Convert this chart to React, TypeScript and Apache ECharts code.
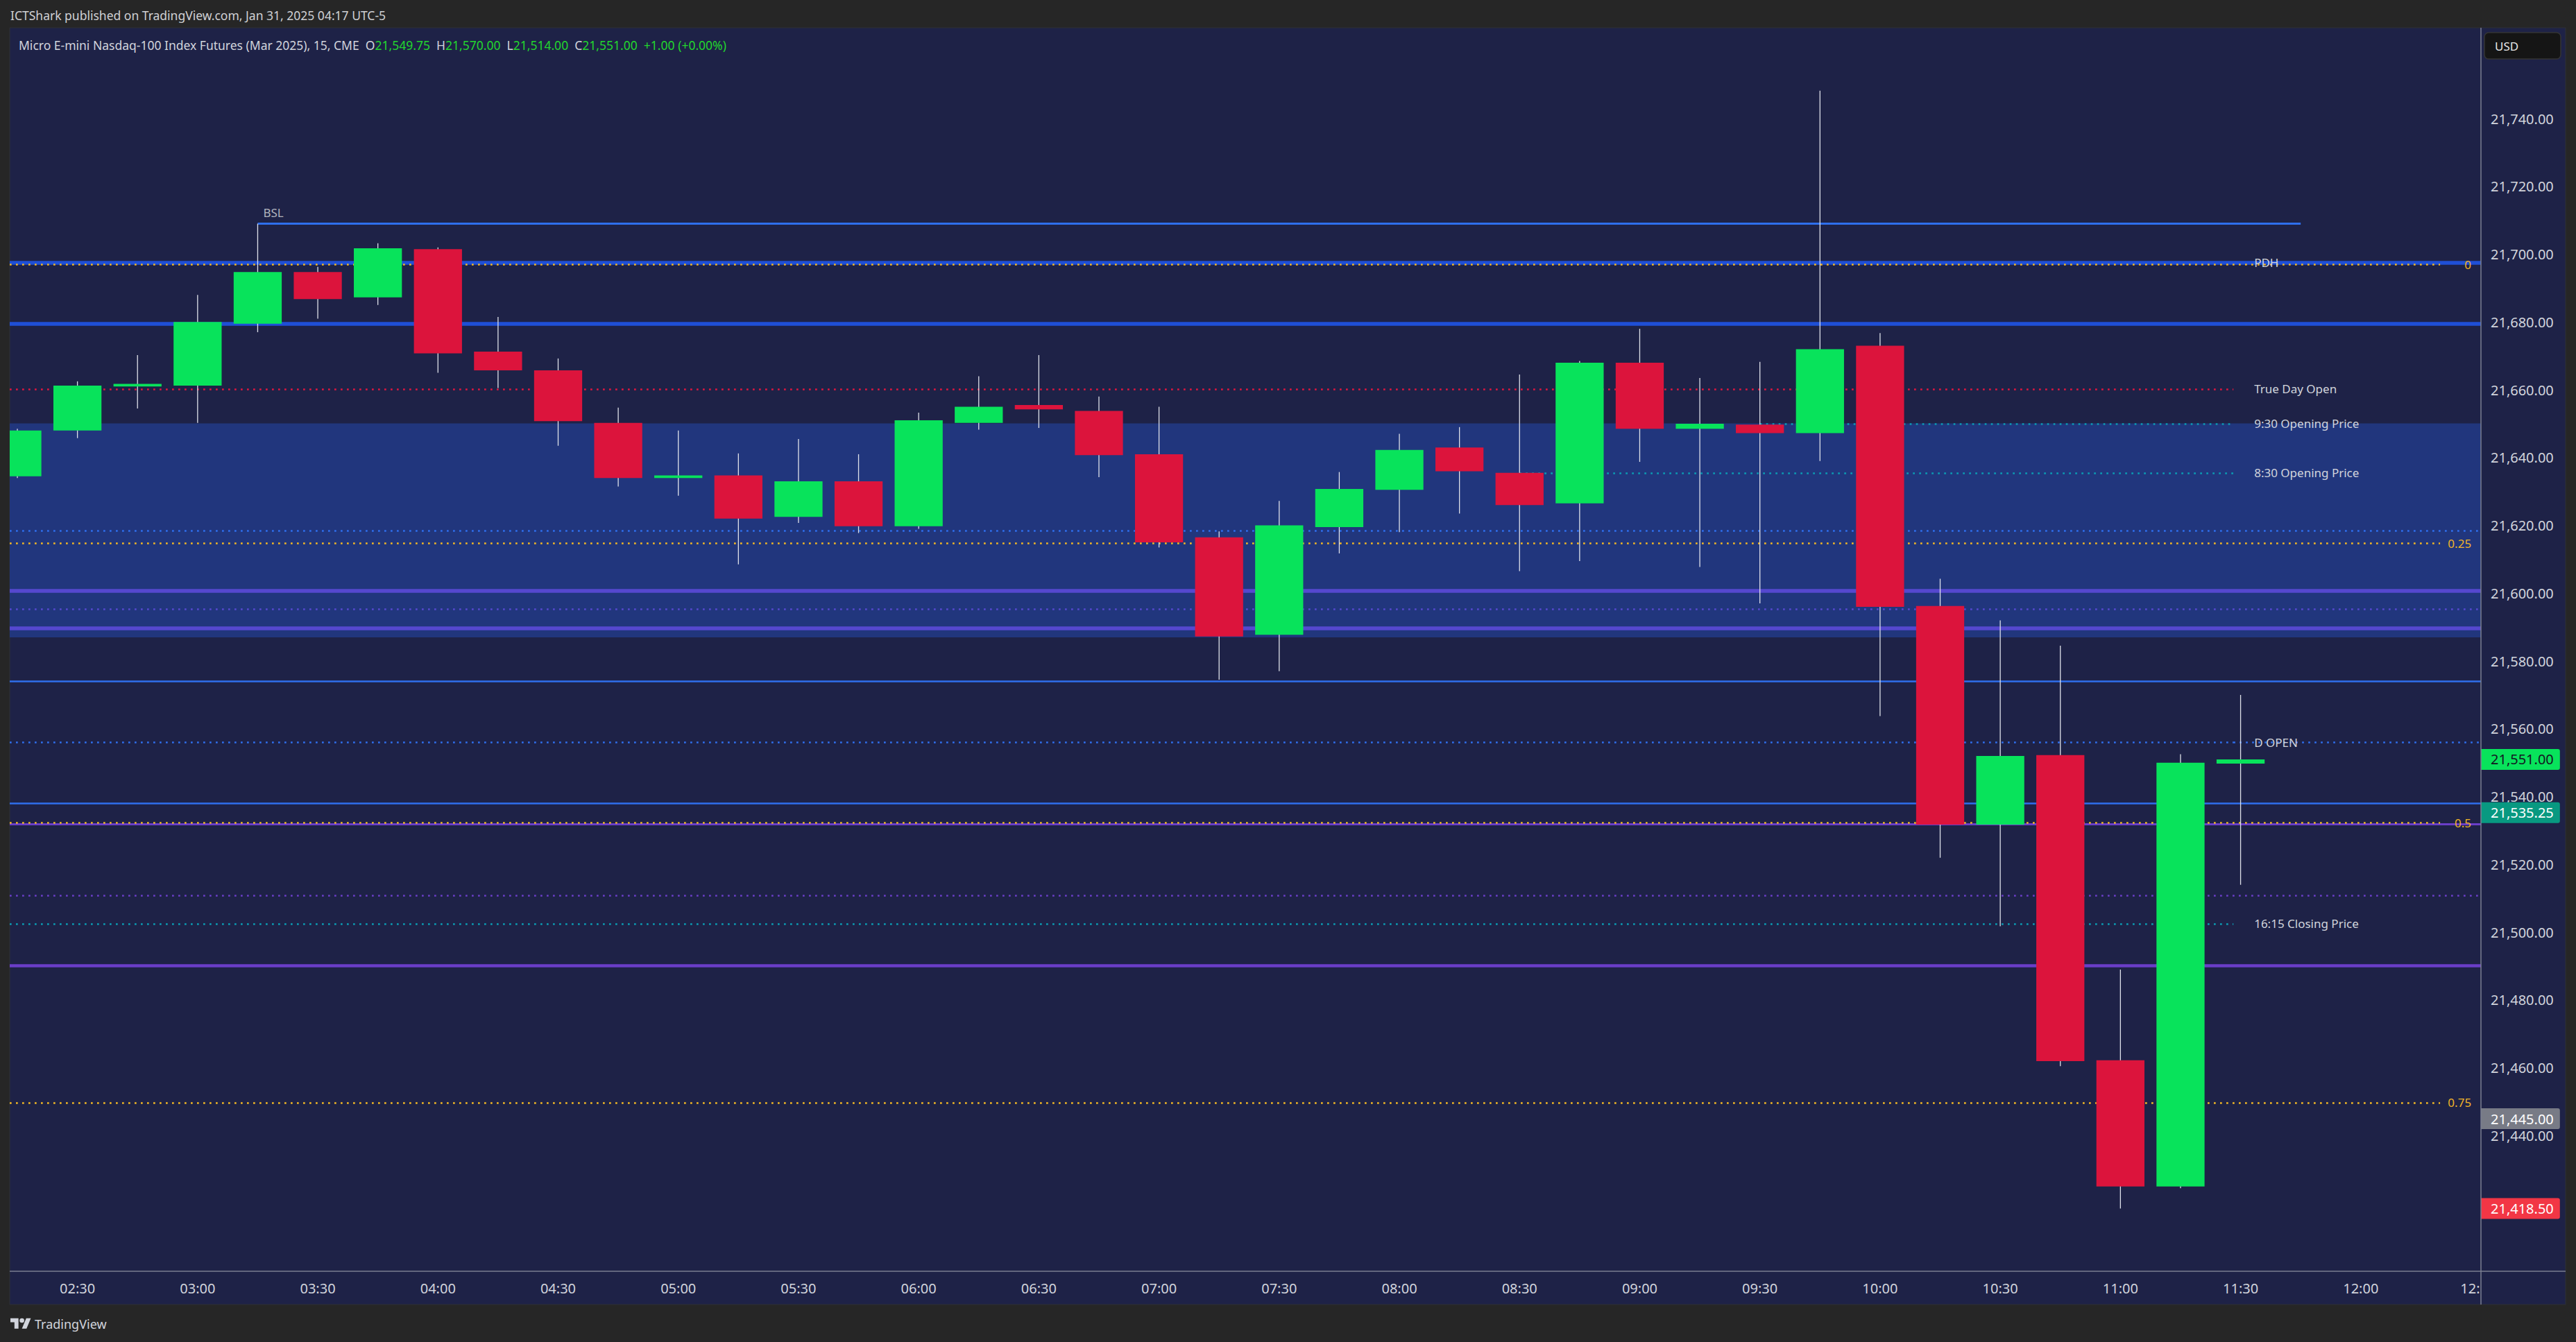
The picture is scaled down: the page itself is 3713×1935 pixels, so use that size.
import React, { useEffect, useRef } from 'react';
import * as echarts from 'echarts';

// ---------------- DATA ----------------
const candleTimes = ['02:15','02:30','02:45','03:00','03:15','03:30','03:45','04:00','04:15','04:30','04:45','05:00','05:15','05:30','05:45','06:00','06:15','06:30','06:45','07:00','07:15','07:30','07:45','08:00','08:15','08:30','08:45','09:00','09:15','09:30','09:45','10:00','10:15','10:30','10:45','11:00','11:15','11:30'];
const opens  = [21634.5,21648,21661,21661.25,21679.5,21694.75,21687.25,21701.5,21671.25,21665.75,21650.25,21634,21634.75,21622.5,21633,21619.75,21650.25,21655.5,21653.75,21641,21616.5,21587.75,21619.5,21630.5,21643,21635.5,21626.5,21668,21648.5,21649.75,21647.25,21673,21596.25,21531.75,21552.25,21462.25,21425,21549.75];
const closes = [21648,21661.25,21661.75,21680,21694.75,21686.75,21701.75,21670.75,21665.75,21650.75,21634,21634.75,21622,21633,21619.75,21651,21655,21654.25,21640.75,21615,21587.25,21620,21630.75,21642.25,21636,21626,21668,21648.5,21650,21647.25,21672,21596,21531.75,21552,21462,21425,21550,21551];
const lows   = [21634,21645.75,21654.5,21650.25,21677,21681,21685,21665,21660.5,21643.5,21631.5,21628.75,21608.5,21620.75,21617.75,21619,21648.25,21648.75,21634.25,21613.5,21574.5,21577,21611.75,21618,21623.5,21606.5,21609.5,21638.75,21607.75,21597,21639,21563.75,21522,21501.75,21460.5,21418.5,21424.5,21514];
const highs  = [21648.5,21662.5,21670.25,21688,21709,21696.25,21703.25,21702,21681.5,21669.25,21654.75,21648,21641.25,21645.5,21641,21653.25,21664,21670.25,21658,21655,21618.25,21627.25,21635.75,21647,21649,21664.5,21668.5,21678,21663.5,21668.25,21748.25,21676.75,21604.25,21592,21584.5,21489,21552.5,21570];

const timeLabels = ['02:30','03:00','03:30','04:00','04:30','05:00','05:30','06:00','06:30','07:00','07:30','08:00','08:30','09:00','09:30','10:00','10:30','11:00','11:30','12:00','12:'];
const timeLabelSlots = [1,3,5,7,9,11,13,15,17,19,21,23,25,27,29,31,33,35,37,39,40.82];

const priceTickMin = 21440;
const priceTickMax = 21740;

// key levels
const bslPrice = 21709;
const bslSlots = [4, 38];
const thickBluePrices = [21697.5, 21679.5];
const pdhPrice = 21697.5;
const zoneRange = [21587, 21650.1];
const sessionLabels = ['True Day Open', '9:30 Opening Price', '8:30 Opening Price', '16:15 Closing Price'];
const sessionPrices = [21660.25, 21650, 21635.5, 21502.5];
const sessionStartSlots = [null, 29, 25, null];
const blueDottedPrices = [21618.5];
const dOpenPrice = 21556;
const thinBluePrices = [21574, 21538];
const violetThickPrices = [21600.75, 21589.75];
const violetDottedPrices = [21595.25];
const purpleSolidPrices = [21532];
const purpleDottedPrices = [21510.75];
const purpleThickPrices = [21490.25];
const fibLabels = ['0', '0.25', '0.5', '0.75'];
const fibPrices = [21697, 21614.75, 21532.25, 21449.75];
const tagPrices = [21551, 21535.25, 21445, 21418.5];

// ---------------- STYLE ----------------
const FONT = '"Noto Sans", Roboto, sans-serif';
const UP = '#08e35b';
const DOWN = '#dc143c';
const WICK = '#dfe2ea';
const BG = '#1e2247';
const ZONE = '#21367d';
const DEEP_BLUE = '#1f4fd6';
const BRIGHT_BLUE = '#2f6fed';
const VIOLET = '#5548cf';
const PURPLE = '#6a3ec8';
const RED_DOT = '#e0163f';
const TEAL = '#0b9cb3';
const YELLOW = '#f2b824';
const TEXT = '#d1d4dc';
const tagColors = ['#08e35b', '#089981', '#787b86', '#f23645'];
const tagTextColors = ['#131722', '#ffffff', '#ffffff', '#ffffff'];

const X_MIN = -0.127;
const X_MAX = 41.0;
const LABEL_END = 36.88;
const FIB_END = 40.32;

const fmt = (v: number) => v.toLocaleString('en-US', { minimumFractionDigits: 2, maximumFractionDigits: 2 });

const solid = (color: string, width: number) => ({ color, width, type: 'solid', opacity: 1 });
const dotted = (color: string) => ({ color, width: 2.6, type: [2.7, 6.3], opacity: 1 });
const hidden = { color: 'rgba(0,0,0,0)', width: 0.01, type: 'solid', opacity: 1 };

const seg = (price: number, x1: number, x2: number, lineStyle: any, label?: any) => [
  { coord: [x1, price], lineStyle, label: label || { show: false } },
  { coord: [x2, price] },
];

const sideLabel = (text: string) => ({
  show: true, formatter: text, position: 'end', distance: 30,
  color: TEXT, fontSize: 17, fontFamily: FONT,
});

function buildOption() {
  const candleData = opens.map((o, i) => [i, o, closes[i], lows[i], highs[i]]);

  const lines: any[] = [];
  // BSL
  lines.push(seg(bslPrice, bslSlots[0], bslSlots[1], solid(BRIGHT_BLUE, 3), {
    show: true, formatter: 'BSL', position: 'insideStartTop', distance: 8,
    color: '#b2b5be', fontSize: 17, fontFamily: FONT,
  }));
  // thick deep-blue levels
  thickBluePrices.forEach((p) => lines.push(seg(p, X_MIN, X_MAX, solid(DEEP_BLUE, 5.5))));
  // violet / purple levels
  violetThickPrices.forEach((p) => lines.push(seg(p, X_MIN, X_MAX, solid(VIOLET, 5.5))));
  violetDottedPrices.forEach((p) => lines.push(seg(p, X_MIN, X_MAX, dotted(VIOLET))));
  purpleSolidPrices.forEach((p) => lines.push(seg(p, X_MIN, X_MAX, solid(PURPLE, 3))));
  purpleDottedPrices.forEach((p) => lines.push(seg(p, X_MIN, X_MAX, dotted(PURPLE))));
  purpleThickPrices.forEach((p) => lines.push(seg(p, X_MIN, X_MAX, solid(PURPLE, 4.5))));
  // blue levels
  thinBluePrices.forEach((p) => lines.push(seg(p, X_MIN, X_MAX, solid(BRIGHT_BLUE, 2.5))));
  blueDottedPrices.forEach((p) => lines.push(seg(p, X_MIN, X_MAX, dotted(BRIGHT_BLUE))));
  lines.push(seg(dOpenPrice, X_MIN, LABEL_END, dotted(BRIGHT_BLUE), sideLabel('D OPEN')));
  lines.push(seg(dOpenPrice, LABEL_END, X_MAX, dotted(BRIGHT_BLUE)));
  // session levels
  sessionPrices.forEach((p, i) => {
    const color = i === 0 ? RED_DOT : TEAL;
    const start = sessionStartSlots[i] == null ? X_MIN : (sessionStartSlots[i] as number);
    lines.push(seg(p, start, LABEL_END, dotted(color), sideLabel(sessionLabels[i])));
  });
  // fib levels
  fibPrices.forEach((p, i) => {
    lines.push(seg(p, X_MIN, FIB_END, dotted(YELLOW), {
      show: true, formatter: fibLabels[i], position: 'end', distance: 45, align: 'right',
      color: '#f0b429', fontSize: 17, fontFamily: FONT,
    }));
  });
  // PDH label
  lines.push(seg(pdhPrice, X_MIN, LABEL_END, hidden, sideLabel('PDH')));

  const tags: any[] = tagPrices.map((p, i) => seg(p, X_MIN, X_MAX, hidden, {
    show: true, formatter: fmt(p), position: 'end', distance: 0,
    color: tagTextColors[i], backgroundColor: tagColors[i], fontSize: 20, fontFamily: FONT,
    lineHeight: 20, padding: [5, 9, 5, 14], borderRadius: [0, 3, 3, 0],
  }));

  const last = opens.length - 1;
  const g = (v: number) => fmt(v);
  const chg = closes[last] - closes[last - 1];
  const pct = (chg / closes[last - 1]) * 100;
  const legendText =
    `{w|Micro E-mini Nasdaq-100 Index Futures (Mar 2025), 15, CME  O}{g|${g(opens[last])}}` +
    `{w|  H}{g|${g(highs[last])}}{w|  L}{g|${g(lows[last])}}{w|  C}{g|${g(closes[last])}}` +
    `{g|  ${chg >= 0 ? '+' : ''}${chg.toFixed(2)} (${pct >= 0 ? '+' : ''}${pct.toFixed(2)}%)}`;

  return {
    animation: false,
    backgroundColor: '#262626',
    textStyle: { fontFamily: FONT },
    grid: { left: 14, right: 137, top: 40, bottom: 102, containLabel: false },
    xAxis: {
      type: 'value', min: X_MIN, max: X_MAX,
      axisLine: { show: false }, axisTick: { show: false }, splitLine: { show: false },
      axisLabel: {
        customValues: timeLabelSlots,
        formatter: (v: number) => {
          const k = timeLabelSlots.findIndex((s) => Math.abs(s - v) < 1e-6);
          return k >= 0 ? timeLabels[k] : '';
        },
        color: TEXT, fontSize: 20, fontFamily: FONT, margin: 14,
      },
    },
    yAxis: {
      type: 'value', position: 'right', min: 21400, max: 21766.8, interval: 20,
      axisLine: { show: false }, axisTick: { show: false }, splitLine: { show: false },
      axisLabel: {
        formatter: (v: number) => (v >= priceTickMin && v <= priceTickMax ? fmt(v) : ''),
        color: TEXT, fontSize: 20, fontFamily: FONT, margin: 14,
        showMinLabel: false, showMaxLabel: false,
      },
    },
    graphic: {
      elements: [
        { type: 'rect', z: -10, shape: { x: 14, y: 40, width: 3684, height: 1841 }, style: { fill: BG, stroke: '#2e3035', lineWidth: 1 } },
        { type: 'line', z: 20, shape: { x1: 3576, y1: 40, x2: 3576, y2: 1881 }, style: { stroke: '#7b7f90', lineWidth: 1.5 } },
        { type: 'line', z: 20, shape: { x1: 14, y1: 1833, x2: 3698, y2: 1833 }, style: { stroke: '#7b7f90', lineWidth: 1.5 } },
        { type: 'rect', z: 30, shape: { x: 3581, y: 47, width: 110, height: 38, r: 6 }, style: { fill: '#151515', stroke: '#343434', lineWidth: 1.5 } },
        { type: 'text', z: 31, x: 3596, y: 66, style: { text: 'USD', fill: '#e6e6e6', fontSize: 17, fontFamily: FONT, verticalAlign: 'middle' } },
        { type: 'text', z: 31, x: 15, y: 22, style: { text: 'ICTShark published on TradingView.com, Jan 31, 2025 04:17 UTC-5', fill: '#cfd0d4', fontSize: 17.5, fontFamily: FONT, verticalAlign: 'middle' } },
        {
          type: 'text', z: 31, x: 27, y: 65,
          style: {
            text: legendText, fontSize: 17.5, fontFamily: FONT, verticalAlign: 'middle',
            rich: { w: { fill: '#d1d4dc', fontSize: 17.5, fontFamily: FONT }, g: { fill: '#22d62e', fontSize: 17.5, fontFamily: FONT } },
          },
        },
        { type: 'tvlogo', z: 31, x: 15, y: 1897.4, scaleX: 0.83, scaleY: 0.83, style: { fill: '#d1d4dc' } },
        { type: 'text', z: 31, x: 50, y: 1909, style: { text: 'TradingView', fill: '#d1d4dc', fontSize: 18, fontFamily: FONT, verticalAlign: 'middle' } },
      ],
    },
    series: [
      {
        type: 'line', data: [], z: 1, silent: true, clip: false,
        markArea: { silent: true, itemStyle: { color: ZONE }, data: [[{ yAxis: zoneRange[1] }, { yAxis: zoneRange[0] }]] },
      },
      {
        type: 'line', data: [], z: 2, silent: true, clip: false,
        markLine: { silent: true, symbol: 'none', label: { show: false }, data: lines },
      },
      {
        type: 'custom', z: 5, clip: true, silent: true,
        encode: { x: 0, y: [1, 2, 3, 4] },
        data: candleData,
        renderItem: (params: any, api: any) => {
          const x = api.value(0);
          const o = api.value(1), c = api.value(2), l = api.value(3), h = api.value(4);
          const pO = api.coord([x, o]);
          const pC = api.coord([x, c]);
          const pL = api.coord([x, l]);
          const pH = api.coord([x, h]);
          const w = api.size([0.8, 0])[0];
          const top = Math.min(pO[1], pC[1]);
          const hgt = Math.max(Math.abs(pO[1] - pC[1]), 2);
          return {
            type: 'group',
            children: [
              { type: 'line', shape: { x1: pH[0], y1: pH[1], x2: pL[0], y2: pL[1] }, style: { stroke: WICK, lineWidth: 1.3 } },
              { type: 'rect', shape: { x: pO[0] - w / 2, y: top, width: w, height: hgt }, style: { fill: c >= o ? UP : DOWN } },
            ],
          };
        },
      },
      {
        type: 'line', data: [], z: 10, silent: true, clip: false,
        markLine: { silent: true, symbol: 'none', label: { show: false }, data: tags },
      },
    ],
  };
}

let registered = false;
function registerLogo() {
  if (registered) return;
  registered = true;
  const d = 'M14 22H7V11H0V4h14v18z M28 22h-8l7.5-18h8L28 22z M20 4a4 4 0 1 1 0 8a4 4 0 1 1 0-8z';
  echarts.graphic.registerShape('tvlogo', echarts.graphic.extendPath(d, {}) as any);
}

export default function App() {
  const ref = useRef<HTMLDivElement>(null);
  useEffect(() => {
    registerLogo();
    const chart = echarts.init(ref.current as HTMLDivElement, null, { renderer: 'svg' });
    chart.setOption(buildOption() as any);
    return () => chart.dispose();
  }, []);
  return (
    <div style={{ position: 'fixed', left: 0, top: 0, width: 3713, height: 1935, background: '#262626' }}>
      <div ref={ref} style={{ width: 3713, height: 1935 }} />
    </div>
  );
}
